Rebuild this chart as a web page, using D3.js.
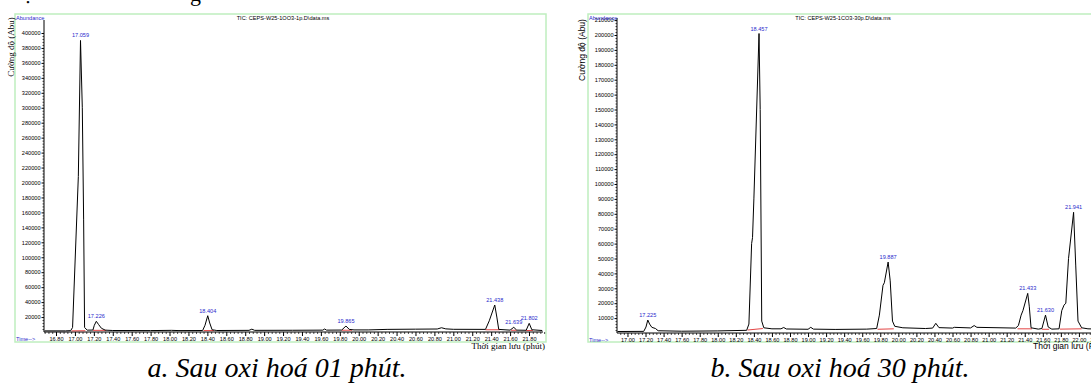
<!DOCTYPE html>
<html>
<head>
<meta charset="utf-8">
<script src="https://cdn.jsdelivr.net/npm/d3@7"></script>
<style>
body{margin:0;background:#fff}
svg text{font-family:"Liberation Sans",Arial,sans-serif}
</style>
</head>
<body>
<svg id="chart" width="1091" height="385"></svg>
<script>
/*
    Data (time in minutes, abundance)
*/
var traceA = [
    [16.68,1500],[16.90,1500],[16.955,1800],[16.975,6000],[17.036,208000],[17.059,390000],
    [17.078,300000],[17.092,150000],[17.102,6000],[17.13,2500],[17.19,2600],[17.205,9000],
    [17.226,14300],[17.25,10000],[17.28,5000],[17.32,2500],[17.40,2000],[17.80,1900],
    [18.02,2200],[18.10,1900],[18.35,2000],[18.375,9000],[18.404,21800],[18.425,12000],
    [18.45,3000],[18.50,2000],[18.84,2200],[18.87,3800],[18.90,2200],[19.30,2300],
    [19.62,2500],[19.64,4000],[19.66,2500],[19.82,2600],[19.865,8000],[19.90,3500],
    [19.95,2800],[20.10,2800],[20.30,3500],[20.60,3800],[20.83,4000],[20.875,5700],
    [20.92,4200],[21.00,3600],[21.34,3500],[21.38,15000],[21.438,36100],[21.46,20000],
    [21.48,3500],[21.60,2500],[21.639,6300],[21.67,2500],[21.77,2300],[21.802,11600],
    [21.83,3000],[21.94,2000]
];
var peaksA = [[17.059,390000],[17.226,14300],[18.404,21800],[19.865,8000],[21.438,36100],[21.639,6300],[21.802,11600]];
var redA = [[16.965,17.11,1500,1700],[17.19,17.33,2200,2200],[18.36,18.47,1900,1900],[19.82,19.93,2400,2400],
    [21.34,21.49,3000,3000],[21.61,21.67,2300,2300],[21.77,21.84,2000,2000]];

var traceB = [
    [16.89,1000],[17.18,1100],[17.205,4000],[17.225,8700],[17.245,6000],[17.27,3800],
    [17.31,3000],[17.34,1500],[17.60,1200],[18.00,1400],[18.32,1800],[18.345,6000],
    [18.375,60000],[18.385,64000],[18.40,90000],[18.457,201000],[18.47,150000],[18.487,8000],
    [18.51,3500],[18.60,2800],[18.70,2800],[18.73,3700],[18.76,2700],[19.00,2500],
    [19.03,3800],[19.06,2600],[19.30,2400],[19.65,2600],[19.76,3000],[19.79,12000],
    [19.83,32000],[19.845,33700],[19.887,47600],[19.91,35000],[19.935,8000],[19.96,4500],
    [20.05,3500],[20.30,3000],[20.38,3300],[20.415,6500],[20.45,3600],[20.60,3300],
    [20.62,3800],[20.80,3400],[20.84,5000],[20.87,3800],[21.30,3300],[21.33,5000],
    [21.36,12000],[21.38,15000],[21.433,26600],[21.45,18000],[21.47,3500],[21.55,2600],
    [21.59,3000],[21.63,12000],[21.66,4000],[21.70,2600],[21.78,2800],[21.81,15000],
    [21.835,18700],[21.855,20000],[21.885,50000],[21.941,81000],[21.965,45000],[21.99,8000],
    [22.03,3500],[22.10,2800],[22.30,2500]
];
var peaksB = [[17.225,8700],[18.457,201000],[19.887,47600],[21.433,26600],[21.630,12000],[21.941,81000]];
var redB = [[18.33,18.50,2000,3000],[19.77,19.95,2500,2800],[21.32,21.48,2800,2800],[21.59,21.67,2500,2500],[21.79,22.03,2600,2800]];

var xTicksA = d3.range(16.8, 21.81, 0.2);
var xTicksB = d3.range(17.0, 22.21, 0.2);
var yTicksA = d3.range(20000, 400001, 20000);
var yTicksB = d3.range(10000, 210001, 10000);

var titleA = "TIC: CEPS-W25-1OO3-1p.D\\data.ms";
var titleB = "TIC: CEPS-W25-1CO3-30p.D\\data.ms";
var captionA = "a. Sau oxi hoá 01 phút.";
var captionB = "b. Sau oxi hoá 30 phút.";

var svg = d3.select("#chart");
var blue = "#2a2acc";

/* cut off line of the text above the figure */
svg.append("text").text("ị").attr("x", 25).attr("y", 0)
    .style("font-family", "Liberation Serif").style("font-size", "22px");
svg.append("text").text("g").attr("x", 190).attr("y", 1)
    .style("font-family", "Liberation Serif").style("font-size", "22px");

function drawPanel(cfg){
    var g = svg.append("g");
    var x = d3.scaleLinear().domain(cfg.xDomain).range(cfg.xRange);
    var y = d3.scaleLinear().domain([0, cfg.yRef]).range([cfg.yBase, cfg.yRefPx]);

    // green frame
    g.append("rect")
        .attr("x", cfg.frame[0]).attr("y", cfg.frame[1])
        .attr("width", cfg.frame[2]).attr("height", cfg.frame[3])
        .attr("fill", "none").attr("stroke", "#bfeebf").attr("stroke-width", 1.5);

    // x axis, major + minor
    var minorX = [];
    cfg.xTicks.forEach(function(t, i){
        for(var k=1;k<5;k++) minorX.push(t + k*0.04);
        if(i==0) for(var k=1;k<5;k++) minorX.push(t - k*0.04);
    });
    g.append("g").attr("transform", "translate(0," + cfg.yBase + ")")
        .call(d3.axisBottom(x).tickValues(minorX.filter(function(d){return d>=cfg.xDomain[0]}))
            .tickSize(2).tickFormat(""))
        .call(function(a){a.select(".domain").remove()})
        .selectAll("line").attr("stroke-width", 0.7);
    var ax = g.append("g").attr("transform", "translate(0," + cfg.yBase + ")")
        .call(d3.axisBottom(x).tickValues(cfg.xTicks).tickSize(4).tickPadding(1)
            .tickFormat(d3.format(".2f")));
    ax.select(".domain").attr("d", "M" + cfg.xRange[0] + ",0H" + cfg.xRange[1]);
    ax.selectAll("text").style("font-size", "5.6px").style("font-family", "Liberation Sans");

    // y axis
    var minorY = [];
    cfg.yTicks.forEach(function(v){
        for(var k=1;k<5;k++) minorY.push(v - k*cfg.yTicks[0]/5);
    });
    g.append("g").attr("transform", "translate(" + cfg.xRange[0] + ",0)")
        .call(d3.axisLeft(y).tickValues(minorY).tickSize(1.5).tickFormat(""))
        .call(function(a){a.select(".domain").remove()})
        .selectAll("line").attr("stroke-width", 0.7);
    var ay = g.append("g").attr("transform", "translate(" + cfg.xRange[0] + ",0)")
        .call(d3.axisLeft(y).tickValues(cfg.yTicks).tickSize(2.5).tickPadding(1)
            .tickFormat(d3.format("d")));
    ay.select(".domain").attr("d", "M0," + cfg.yBase + "V" + cfg.yTop);
    ay.selectAll("text").style("font-size", "5.6px").style("font-family", "Liberation Sans");

    // red integration baselines
    g.selectAll(".red").data(cfg.red).enter().append("line")
        .attr("x1", function(d){return x(d[0])}).attr("x2", function(d){return x(d[1])})
        .attr("y1", function(d){return y(d[2])}).attr("y2", function(d){return y(d[3])})
        .attr("stroke", "#e03030").attr("stroke-width", 0.9);

    // trace
    var line = d3.line().x(function(d){return x(d[0])}).y(function(d){return y(d[1])});
    g.append("path").datum(cfg.trace).attr("d", line)
        .attr("fill", "none").attr("stroke", "#000").attr("stroke-width", 1);

    // peak labels
    g.selectAll(".pk").data(cfg.peaks).enter().append("text")
        .attr("x", function(d){return x(d[0])})
        .attr("y", function(d){return y(d[1]) - 3})
        .attr("text-anchor", "middle")
        .style("font-size", "5.6px").attr("fill", blue)
        .text(function(d){return d[0].toFixed(3)});

    g.append("text").text("Abundance").attr("x", cfg.frame[0] + 1).attr("y", cfg.frame[1] + 6)
        .style("font-size", "5.6px").attr("fill", blue);
    g.append("text").text(cfg.title).attr("x", cfg.titleX).attr("y", cfg.frame[1] + 6)
        .attr("text-anchor", "middle").style("font-size", "5.6px");
    g.append("text").text("Time-->").attr("x", cfg.frame[0] + 1).attr("y", cfg.yBase + 9)
        .style("font-size", "5.6px").attr("fill", blue);

    g.append("text").text("Cường độ (Abu)")
        .attr("transform", "translate(" + cfg.yLabel[0] + "," + cfg.yLabel[1] + ") rotate(-90)")
        .attr("text-anchor", "middle")
        .style("font-family", cfg.labelFont).style("font-size", cfg.labelSize);
    g.append("text").text(cfg.xLabel)
        .attr("x", cfg.xLabelPos[0]).attr("y", cfg.xLabelPos[1])
        .attr("text-anchor", cfg.xLabelAnchor)
        .style("font-family", cfg.labelFont).style("font-size", cfg.labelSize);

    g.append("text").text(cfg.caption)
        .attr("x", cfg.captionX).attr("y", 377).attr("text-anchor", "middle")
        .style("font-family", "Liberation Serif").style("font-style", "italic").style("font-size", "28px");
}

drawPanel({
    xDomain: [16.673, 21.948], xRange: [44, 543],
    yRef: 400000, yBase: 332, yRefPx: 33, yTop: 20,
    frame: [15, 14, 531, 328],
    xTicks: xTicksA, yTicks: yTicksA,
    trace: traceA, peaks: peaksA, red: redA,
    title: titleA, titleX: 283,
    yLabel: [14, 47], labelFont: "Liberation Serif", labelSize: "9px",
    xLabel: "Thời gian lưu (phút)", xLabelPos: [545, 349], xLabelAnchor: "end",
    caption: captionA, captionX: 277
});

drawPanel({
    xDomain: [16.884, 22.3], xRange: [617, 1106],
    yRef: 200000, yBase: 333, yRefPx: 35, yTop: 18,
    frame: [588, 14, 560, 328],
    xTicks: xTicksB, yTicks: yTicksB,
    trace: traceB, peaks: peaksB, red: redB,
    title: titleB, titleX: 843,
    yLabel: [585, 50], labelFont: "Liberation Sans", labelSize: "8.5px",
    xLabel: "Thời gian lưu (Phút)", xLabelPos: [1033, 349], xLabelAnchor: "start",
    caption: captionB, captionX: 840
});
</script>
</body>
</html>
